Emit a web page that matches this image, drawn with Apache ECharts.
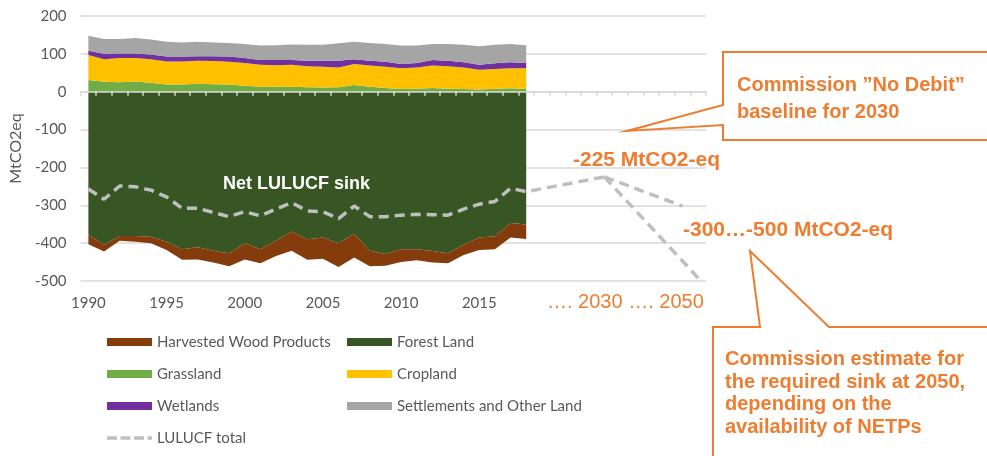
<!DOCTYPE html>
<html>
<head>
<meta charset="utf-8">
<script src="https://cdn.jsdelivr.net/npm/echarts@6/dist/echarts.min.js"></script>
<style>
  html, body { margin: 0; background: #fff; }
  #chart { width: 987px; height: 456px; }
</style>
</head>
<body>
<div id="chart"></div>
<script>
// categories: history 1990-2018, then room for the projection up to 2029
const years = ['1990', '1991', '1992', '1993', '1994', '1995', '1996', '1997', '1998', '1999',
  '2000', '2001', '2002', '2003', '2004', '2005', '2006', '2007', '2008', '2009',
  '2010', '2011', '2012', '2013', '2014', '2015', '2016', '2017', '2018', '2019',
  '2020', '2021', '2022', '2023', '2024', '2025', '2026', '2027', '2028', '2029']
const yTicks = [-500, -400, -300, -200, -100, 0, 100, 200]

// MtCO2eq, 1990-2018
const forestLand = [-378, -404, -381, -381, -383, -396, -416, -411, -420, -427, -400, -416, -394, -369, -390,
  -385, -400, -375, -420, -429, -416, -416, -421, -427, -404, -385, -382, -347, -351]
const harvestedWood = [-25, -18, -13, -15, -17, -22, -28, -32, -31, -34, -43, -37, -40, -51, -54,
  -56, -63, -63, -41, -31, -34, -29, -30, -26, -27, -33, -34, -38, -38]
const grassland = [31, 26, 25, 27, 24, 19, 19, 21, 20, 19, 16, 13, 13, 13, 12, 11, 12, 18, 13, 10, 7, 8, 10, 8, 7, 6, 8, 9, 7]
const cropland = [66, 60, 64, 62, 62, 61, 61, 61, 61, 60, 60, 58, 57, 58, 55, 55, 52, 55, 56, 56, 55, 56, 59, 59, 57, 52, 52, 53, 55]
const wetlands = [11, 14, 12, 12, 12, 13, 13, 12, 13, 14, 13, 13, 14, 13, 15, 16, 18, 13, 13, 13, 11, 12, 15, 15, 14, 13, 15, 16, 14]
const settlements = [40, 39, 38, 41, 40, 39, 37, 38, 36, 36, 37, 38, 39, 41, 42, 42, 46, 46, 47, 47, 49, 46, 42, 44, 46, 49, 49, 48, 47]
const lulucfTotal = [-257, -284, -249, -251, -260, -278, -308, -308, -319, -330, -317, -328, -310, -293, -315,
  -317, -335, -302, -330, -330, -326, -324, -325, -326, -310, -297, -290, -255, -264]

// projection points
const baselinePoint = ['2023', -225]
const sinkHighPoint = ['2028', -302]
const sinkLowPoint = ['2029', -492]

const grey = '#595959'
const orange = '#ed7d31'
const dashGrey = '#bfbfbf'
const labelFont = 'Lato, "Open Sans", sans-serif'
const boldFont = '"Liberation Sans", Arial, sans-serif'

// dashed legend swatch; the two tiny squares keep the full 0..8 height
const dashIcon = 'path://M0,0h0.01v0.01h-0.01zM0,7.99h0.01v0.01h-0.01z' +
  'M0,2.2h10v3.6h-10zM13.5,2.2h10v3.6h-10zM27,2.2h10v3.6h-10zM40.5,2.2h4.5v3.6h-4.5z'

const area = (name, data, color) => ({
  name,
  type: 'line',
  stack: 'lulucf',
  stackStrategy: 'samesign',
  data,
  symbol: 'none',
  lineStyle: { width: 0 },
  itemStyle: { color },
  areaStyle: { color, opacity: 1 },
  emphasis: { disabled: true }
})

const dashed = { color: dashGrey, width: 3.5, type: [10, 6] }
const totalData = lulucfTotal.map((v, i) => [years[i], v]).concat([baselinePoint])

const legendBase = {
  orient: 'vertical',
  top: 334,
  padding: 0,
  itemWidth: 45,
  itemHeight: 8,
  itemGap: 16,
  textStyle: { color: grey, fontFamily: labelFont, fontSize: 15, lineHeight: 16 }
}

const chart = echarts.init(document.getElementById('chart'))
chart.setOption({
  animation: false,
  grid: { left: 80, right: 281, top: 16, bottom: 175, containLabel: false },
  xAxis: [
    {
      type: 'category',
      data: years,
      boundaryGap: true,
      z: 5,
      axisLine: { onZero: true, lineStyle: { color: '#d9d9d9', width: 1.5 } },
      axisTick: { show: true, interval: 0, length: 4, lineStyle: { color: '#d9d9d9', width: 1.5 } },
      axisLabel: { show: false }
    },
    {
      type: 'category',
      data: years,
      boundaryGap: true,
      position: 'bottom',
      axisLine: { show: false, onZero: false },
      axisTick: { show: false },
      axisLabel: {
        color: grey,
        fontFamily: labelFont,
        fontSize: 15,
        margin: 15,
        interval: (idx) => idx % 5 === 0 && idx <= 25
      }
    }
  ],
  yAxis: {
    type: 'value',
    min: yTicks[0],
    max: yTicks[yTicks.length - 1],
    interval: 100,
    name: 'MtCO2eq',
    nameLocation: 'middle',
    nameGap: 53,
    nameTextStyle: { color: grey, fontFamily: labelFont, fontSize: 16 },
    axisLine: { show: false },
    axisTick: { show: false },
    axisLabel: { color: grey, fontFamily: labelFont, fontSize: 15, margin: 14 },
    splitLine: { lineStyle: { color: '#d9d9d9', width: 1.5 } }
  },
  legend: [
    Object.assign({}, legendBase, {
      left: 107,
      data: [
        { name: 'Harvested Wood Products', icon: 'rect' },
        { name: 'Grassland', icon: 'rect' },
        { name: 'Wetlands', icon: 'rect' },
        { name: 'LULUCF total', icon: dashIcon, itemStyle: { color: dashGrey } }
      ]
    }),
    Object.assign({}, legendBase, {
      left: 347,
      data: [
        { name: 'Forest Land', icon: 'rect' },
        { name: 'Cropland', icon: 'rect' },
        { name: 'Settlements and Other Land', icon: 'rect' }
      ]
    })
  ],
  series: [
    area('Forest Land', forestLand, '#375623'),
    area('Harvested Wood Products', harvestedWood, '#843c0c'),
    area('Grassland', grassland, '#70ad47'),
    area('Cropland', cropland, '#ffc000'),
    area('Wetlands', wetlands, '#7030a0'),
    area('Settlements and Other Land', settlements, '#a5a5a5'),
    {
      name: 'LULUCF total',
      type: 'line',
      data: totalData,
      symbol: 'none',
      itemStyle: { color: dashGrey },
      lineStyle: dashed,
      z: 4
    },
    {
      name: 'sink high',
      type: 'line',
      data: [baselinePoint, sinkHighPoint],
      symbol: 'none',
      lineStyle: dashed,
      z: 4
    },
    {
      name: 'sink low',
      type: 'line',
      data: [baselinePoint, sinkLowPoint],
      symbol: 'none',
      lineStyle: dashed,
      z: 4
    }
  ],
  graphic: [
    {
      type: 'text', z: 10, left: 223, top: 175,
      style: { text: 'Net LULUCF sink', fill: '#fff', font: 'bold 18px ' + boldFont }
    },
    {
      type: 'polygon', z: 10,
      shape: { points: [[723, 52], [992, 52], [992, 140], [723, 140], [723, 125], [627, 131], [723, 105]] },
      style: { fill: '#fff', stroke: orange, lineWidth: 2 }
    },
    {
      type: 'text', z: 11, x: 737, y: 85,
      style: { text: 'Commission ”No Debit”', fill: orange, font: 'bold 20px ' + boldFont, verticalAlign: 'middle' }
    },
    {
      type: 'text', z: 11, x: 737, y: 112,
      style: { text: 'baseline for 2030', fill: orange, font: 'bold 20px ' + boldFont, verticalAlign: 'middle' }
    },
    {
      type: 'text', z: 11, x: 573, y: 160,
      style: { text: '-225 MtCO2-eq', fill: orange, font: 'bold 21px ' + boldFont, verticalAlign: 'middle' }
    },
    {
      type: 'text', z: 11, x: 683, y: 230,
      style: { text: '-300…-500 MtCO2-eq', fill: orange, font: 'bold 21px ' + boldFont, verticalAlign: 'middle' }
    },
    {
      type: 'text', z: 11, x: 547, y: 302,
      style: { text: '…. 2030 …. 2050', fill: orange, font: '20px ' + boldFont, verticalAlign: 'middle' }
    },
    {
      type: 'polygon', z: 10,
      shape: { points: [[713, 327], [760, 327], [750, 251], [829, 327], [992, 327], [992, 460], [713, 460]] },
      style: { fill: '#fff', stroke: orange, lineWidth: 2 }
    },
    {
      type: 'text', z: 11, x: 725, y: 348,
      style: {
        text: 'Commission estimate for\nthe required sink at 2050,\ndepending on the\navailability of NETPs',
        fill: orange, font: 'bold 20px ' + boldFont, lineHeight: 22.7
      }
    }
  ]
})
window.addEventListener('resize', () => chart.resize())
</script>
</body>
</html>
